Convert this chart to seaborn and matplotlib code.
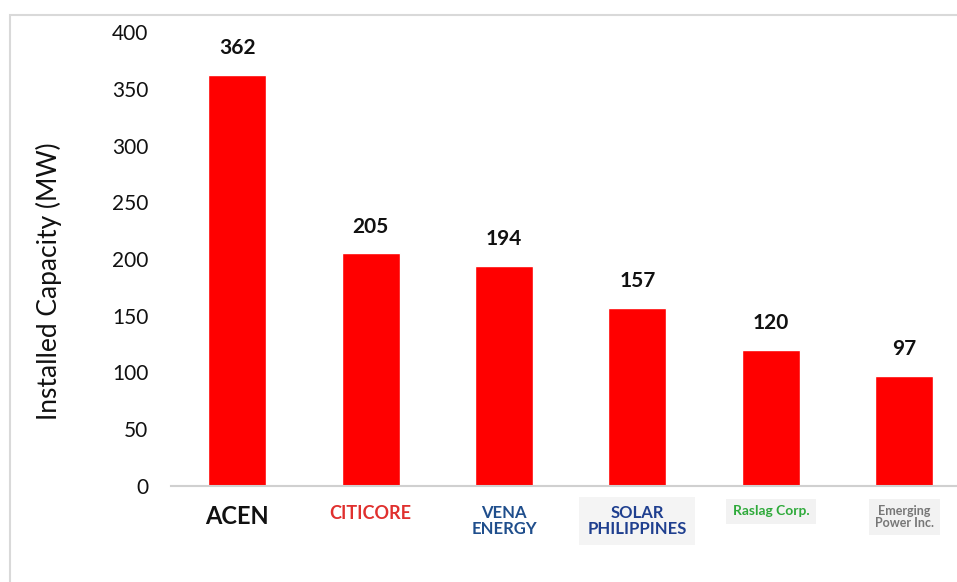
import matplotlib
matplotlib.use("Agg")
import matplotlib.pyplot as plt
import seaborn as sns
import pandas as pd
from matplotlib.patches import Rectangle

companies = ["ACEN", "CITICORE", "VENA\nENERGY", "SOLAR\nPHILIPPINES", "Raslag Corp.", "Emerging\nPower Inc."]
capacity = [362, 205, 194, 157, 120, 97]
label_colors = ["#111111", "#E0302E", "#1F4E8C", "#1F3F8F", "#2EAA3A", "#777777"]
label_boxes = ["#FFFFFF", "#FFFFFF", "#FFFFFF", "#F4F4F4", "#F2F2F2", "#F2F2F2"]
label_sizes = [17, 13, 12, 12, 10, 9]
y_ticks = [0, 50, 100, 150, 200, 250, 300, 350, 400]

sns.set_theme(style="white")
plt.rcParams['font.family'] = ['Lato', 'DejaVu Sans']

W, H, DPI = 957, 582, 100
fig = plt.figure(figsize=(W / DPI, H / DPI), dpi=DPI)
# axes spans pixel x 170.5 -> 971 (cropped on right), y 32 (400) -> 486 (0)
left = 170.5 / W
right = 971 / W
bottom = 1 - 486 / H
top = 1 - 32 / H
ax = fig.add_axes([left, bottom, right - left, top - bottom])

df = pd.DataFrame({"company": companies, "capacity": capacity})
sns.barplot(data=df, x="company", y="capacity", color="#FF0000", saturation=1,
            width=0.435, ax=ax)

ax.set_ylim(0, 400)
ax.set_yticks(y_ticks)
ax.set_yticklabels([str(t) for t in y_ticks], fontsize=15, color="#111111")
ax.tick_params(axis="y", length=0, pad=16)
ax.tick_params(axis="x", length=0, pad=14)
ax.set_xlim(-0.5, len(companies) - 0.5)

for s in ["top", "right", "left"]:
    ax.spines[s].set_visible(False)
ax.spines["bottom"].set_color("#D0D0D0")
ax.spines["bottom"].set_linewidth(1.5)

ax.set_xlabel("")
ax.set_ylabel("Installed Capacity (MW)", fontsize=19, color="#111111")
ax.yaxis.set_label_coords((62 - 170.5) / 800.5, (486 - 281) / 454)

for i, v in enumerate(capacity):
    ax.annotate(str(v), (i, v), xytext=(0, 12), textcoords="offset points",
                ha="center", va="bottom", fontsize=15, fontweight="bold", color="#111111")

labels = ax.get_xticklabels()
for lab, c, bc, fs in zip(labels, label_colors, label_boxes, label_sizes):
    lab.set_color(c)
    lab.set_fontsize(fs)
    lab.set_fontweight("bold")
    lab.set_linespacing(0.95)
    lab.set_verticalalignment("top")
    lab.set_bbox(dict(facecolor=bc, edgecolor="none", boxstyle="square,pad=0.5"))

# light frame
fig.patches.append(Rectangle((10 / W, -0.1), 1.2, (1 - 15 / H) + 0.1,
                             transform=fig.transFigure, fill=False,
                             edgecolor="#D9D9D9", linewidth=1.5))

fig.savefig("out.png", dpi=DPI)
